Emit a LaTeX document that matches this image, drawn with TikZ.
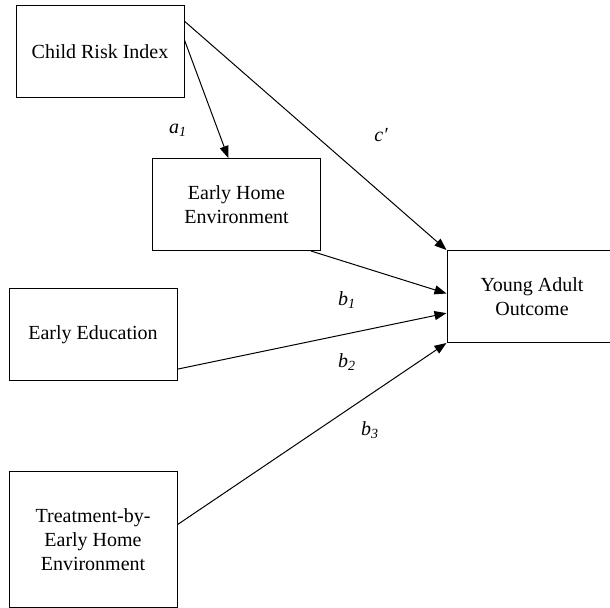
\documentclass[tikz,border=0pt]{standalone}
\usepackage{fontspec}
\setmainfont{Liberation Serif}
\usetikzlibrary{arrows.meta}

\begin{document}
\begin{tikzpicture}[x=0.5pt, y=-0.5pt,
    varbox/.style={draw, line width=0.5pt, align=center, minimum width=84pt, minimum height=46pt, font=\fontsize{10}{12}\selectfont},
    path/.style={line width=0.5pt, -{Triangle[length=6pt, width=4.5pt]}},
    coef/.style={font=\fontsize{10}{12}\selectfont\itshape}]
    \useasboundingbox (0,0) rectangle (610,608);
    \clip (0,0) rectangle (610,608);
    % Nodes
    \node[varbox] (cri) at (100,52) {Child Risk Index};
    \node[varbox] (ehe) at (236.5,204.5) {Early Home\\Environment};
    \node[varbox] (ee) at (93,335) {Early Education};
    \node[varbox, minimum height=67.5pt] (tr) at (93,539.5) {Treatment-by-\\Early Home\\Environment};
    \node[varbox, minimum width=85pt] (yao) at (532,296.5) {Young Adult\\Outcome};
    % Edges
    \draw[path] (cri.8) -- (ehe.100);
    \draw[path] (cri.20) -- (yao.north west);
    \draw[path] (ehe.-32) -- (yao.178);
    \draw[path] (ee.-22) -- (yao.191);
    \draw[path] (tr.10) -- (yao.south west);
    % Labels
    \node[coef] (a1) at (178,130) {a\textsubscript{1}};
    \node[coef] (c) at (381,135) {c′};
    \node[coef] (b1) at (347,300) {b\textsubscript{1}};
    \node[coef] (b2) at (347,362) {b\textsubscript{2}};
    \node[coef] (b3) at (370,430) {b\textsubscript{3}};
\end{tikzpicture}
\end{document}
